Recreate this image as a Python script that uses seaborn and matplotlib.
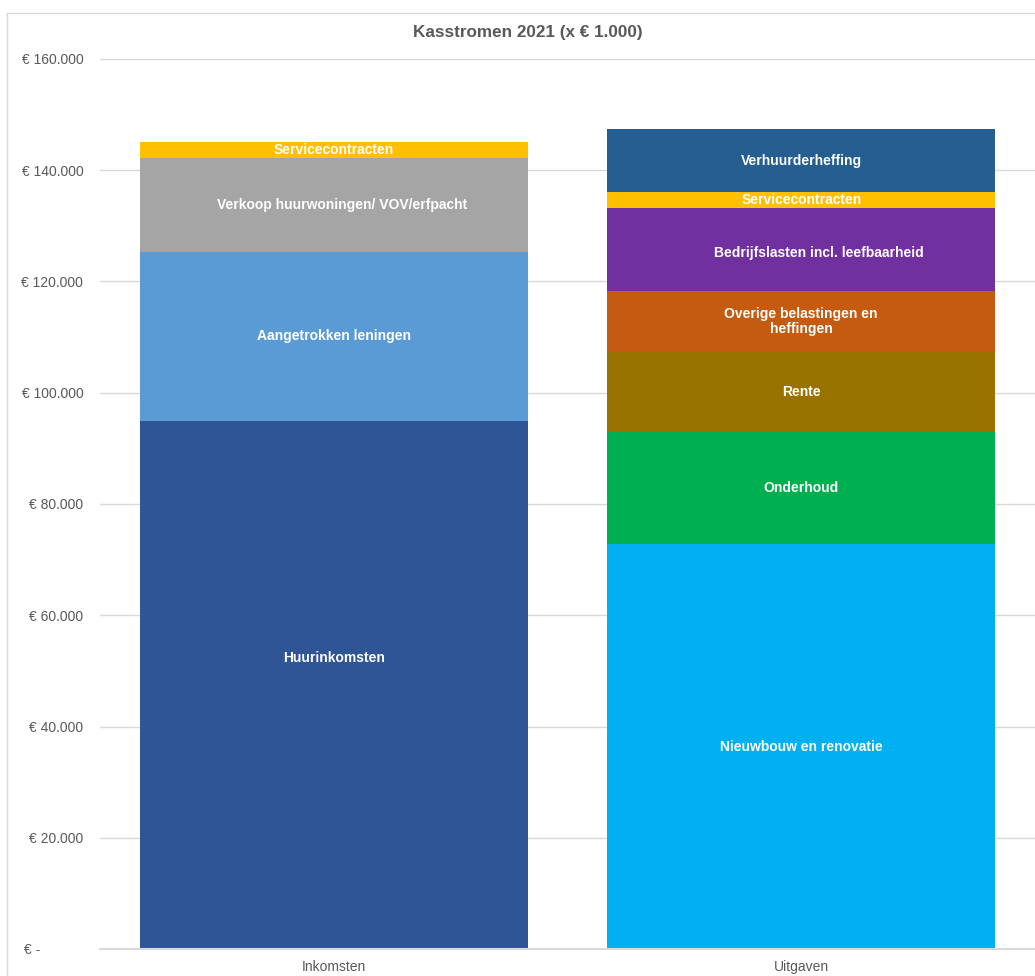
import matplotlib
matplotlib.use("Agg")
import matplotlib.pyplot as plt
from matplotlib.lines import Line2D
from matplotlib.ticker import FuncFormatter
import seaborn as sns

# Kasstromen 2021, bedragen x EUR 1.000
categories = ["Inkomsten", "Uitgaven"]

inkomsten_labels = ["Huurinkomsten", "Aangetrokken leningen",
                    "Verkoop huurwoningen/ VOV/erfpacht", "Servicecontracten"]
inkomsten_values = [95000, 30300, 16900, 2900]
inkomsten_colors = ["#2F5597", "#5B9BD5", "#A5A5A5", "#FFC000"]

uitgaven_labels = ["Nieuwbouw en renovatie", "Onderhoud", "Rente",
                   "Overige belastingen en\nheffingen",
                   "Bedrijfslasten incl. leefbaarheid", "Servicecontracten",
                   "Verhuurderheffing"]
uitgaven_values = [72800, 20100, 14400, 11000, 14900, 2900, 11300]
uitgaven_colors = ["#00B0F0", "#00B050", "#997300", "#C55A11",
                   "#7030A0", "#FFC000", "#255E91"]

# label nudges where the original labels are not centered (x in category units, y in data units)
label_nudge = {"Huurinkomsten": (0, 4800),
               "Verkoop huurwoningen/ VOV/erfpacht": (0.017, 0),
               "Bedrijfslasten incl. leefbaarheid": (0.038, -700)}

sns.set_theme(style="white")
plt.rcParams["font.family"] = ["Liberation Sans", "DejaVu Sans"]

fig = plt.figure(figsize=(10.35, 9.76), dpi=100)
ax = fig.add_axes([100 / 1035, 27 / 976, 1 - 100 / 1035, 890 / 976])

gray_text = "#595959"
grid_col = "#D9D9D9"


def draw_stack(cat, labels, values, colors):
    bottom = 0
    for lab, val, col in zip(labels, values, colors):
        sns.barplot(x=[cat], y=[val], order=categories, bottom=bottom,
                    color=col, width=0.83, linewidth=0, errorbar=None,
                    saturation=1, ax=ax)
        dx, dy = label_nudge.get(lab, (0, 0))
        ax.text(categories.index(cat) + dx, bottom + val / 2 + dy, lab,
                ha="center", va="center", color="white", fontsize=10,
                fontweight="bold", linespacing=1.15)
        bottom += val


draw_stack("Inkomsten", inkomsten_labels, inkomsten_values, inkomsten_colors)
draw_stack("Uitgaven", uitgaven_labels, uitgaven_values, uitgaven_colors)

ax.set_xlim(-0.5, 1.5)
ax.set_ylim(0, 160000)
ax.set_yticks(range(0, 160001, 20000))


def euro(v, pos):
    if v == 0:
        return "€ -" + " " * 11
    return "€ " + f"{int(v):,}".replace(",", ".")


ax.yaxis.set_major_formatter(FuncFormatter(euro))
ax.yaxis.grid(True, color=grid_col, linewidth=1)
ax.axhline(0, color=grid_col, linewidth=1.5, zorder=3, clip_on=False)
ax.set_axisbelow(True)
for s in ax.spines.values():
    s.set_visible(False)
ax.set_xlabel("")
ax.set_ylabel("")
ax.tick_params(axis="y", length=0, pad=12, labelsize=10, labelcolor=gray_text)
ax.tick_params(axis="x", length=0, pad=8, labelsize=10, labelcolor=gray_text)

fig.text(528 / 1035, 1 - 33 / 976, "Kasstromen 2021 (x € 1.000)", ha="center",
         va="center", fontsize=12.3, fontweight="bold", color=gray_text)

# chart frame (cut off at right and bottom in the original)
fig.add_artist(Line2D([7 / 1035, 7 / 1035], [0, 1 - 13 / 976],
                      transform=fig.transFigure, color=grid_col, linewidth=1))
fig.add_artist(Line2D([7 / 1035, 1], [1 - 13 / 976, 1 - 13 / 976],
                      transform=fig.transFigure, color=grid_col, linewidth=1))

fig.savefig("out.png", dpi=100, facecolor="white")
